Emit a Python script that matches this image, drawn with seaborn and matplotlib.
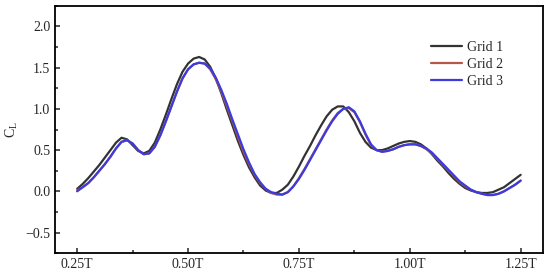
import numpy as np
import pandas as pd
import matplotlib
matplotlib.use("Agg")
import matplotlib.pyplot as plt
from matplotlib.ticker import MultipleLocator, FixedLocator
import seaborn as sns

# phase positions (fraction of period T)
phase = [0.25, 0.2625, 0.275, 0.2875, 0.30, 0.3125, 0.325, 0.3375, 0.35, 0.3625,
         0.375, 0.3875, 0.40, 0.4125, 0.425, 0.4375, 0.45, 0.4625, 0.475, 0.4875,
         0.50, 0.5125, 0.525, 0.5375, 0.55, 0.5625, 0.575, 0.5875, 0.60, 0.6125,
         0.625, 0.6375, 0.65, 0.6625, 0.675, 0.6875, 0.70, 0.7125, 0.725, 0.7375,
         0.75, 0.7625, 0.775, 0.7875, 0.80, 0.8125, 0.825, 0.8375, 0.85, 0.8625,
         0.875, 0.8875, 0.90, 0.9125, 0.925, 0.9375, 0.95, 0.9625, 0.975, 0.9875,
         1.00, 1.0125, 1.025, 1.0375, 1.05, 1.0625, 1.075, 1.0875, 1.10, 1.1125,
         1.125, 1.1375, 1.15, 1.1625, 1.175, 1.1875, 1.20, 1.2125, 1.225, 1.2375,
         1.25]

# lift coefficient
grid1 = [0.03, 0.09, 0.16, 0.24, 0.32, 0.41, 0.50, 0.59, 0.65, 0.63,
         0.56, 0.49, 0.46, 0.49, 0.59, 0.75, 0.93, 1.12, 1.30, 1.45,
         1.55, 1.61, 1.63, 1.60, 1.51, 1.37, 1.19, 0.99, 0.80, 0.61,
         0.44, 0.29, 0.17, 0.07, 0.01, -0.02, -0.02, 0.02, 0.08, 0.18,
         0.30, 0.43, 0.55, 0.68, 0.80, 0.91, 0.99, 1.03, 1.03, 0.96,
         0.85, 0.71, 0.60, 0.53, 0.50, 0.50, 0.52, 0.55, 0.58, 0.60,
         0.61, 0.60, 0.57, 0.52, 0.45, 0.37, 0.30, 0.22, 0.15, 0.09,
         0.04, 0.01, -0.01, -0.02, -0.02, -0.01, 0.02, 0.05, 0.10, 0.15,
         0.20]
grid2 = [0.01, 0.05, 0.10, 0.17, 0.25, 0.33, 0.42, 0.52, 0.60, 0.62,
         0.58, 0.50, 0.45, 0.46, 0.54, 0.68, 0.85, 1.03, 1.21, 1.37,
         1.48, 1.54, 1.56, 1.55, 1.48, 1.36, 1.21, 1.03, 0.85, 0.66,
         0.48, 0.33, 0.20, 0.10, 0.03, -0.02, -0.04, -0.04, -0.01, 0.06,
         0.16, 0.27, 0.39, 0.51, 0.63, 0.75, 0.86, 0.95, 1.00, 1.01,
         0.96, 0.84, 0.69, 0.56, 0.50, 0.48, 0.49, 0.51, 0.54, 0.56,
         0.57, 0.57, 0.55, 0.51, 0.46, 0.39, 0.32, 0.25, 0.18, 0.11,
         0.06, 0.02, -0.01, -0.03, -0.045, -0.045, -0.03, 0.00, 0.04, 0.08,
         0.13]
grid3 = [0.00, 0.05, 0.10, 0.17, 0.25, 0.33, 0.42, 0.52, 0.60, 0.62,
         0.58, 0.50, 0.45, 0.46, 0.54, 0.68, 0.85, 1.03, 1.21, 1.37,
         1.48, 1.54, 1.56, 1.55, 1.49, 1.38, 1.23, 1.06, 0.87, 0.69,
         0.51, 0.35, 0.21, 0.11, 0.03, -0.01, -0.03, -0.04, -0.01, 0.06,
         0.15, 0.26, 0.38, 0.50, 0.62, 0.74, 0.85, 0.94, 1.00, 1.02,
         0.97, 0.85, 0.70, 0.57, 0.50, 0.48, 0.49, 0.51, 0.54, 0.56,
         0.57, 0.57, 0.55, 0.52, 0.47, 0.40, 0.33, 0.26, 0.19, 0.12,
         0.07, 0.02, -0.01, -0.03, -0.045, -0.045, -0.03, 0.00, 0.04, 0.08,
         0.13]

xtick_vals = [0.25, 0.50, 0.75, 1.00, 1.25]
xtick_labels = ["0.25T", "0.50T", "0.75T", "1.00T", "1.25T"]

df = pd.concat([
    pd.DataFrame({"t": phase, "cl": grid1, "grid": "Grid 1"}),
    pd.DataFrame({"t": phase, "cl": grid2, "grid": "Grid 2"}),
    pd.DataFrame({"t": phase, "cl": grid3, "grid": "Grid 3"}),
])

sns.set_style("ticks")
plt.rcParams["font.family"] = ["Liberation Serif", "DejaVu Serif"]
plt.rcParams["mathtext.fontset"] = "custom"
plt.rcParams["mathtext.rm"] = "Liberation Serif"

fig = plt.figure(figsize=(5.5, 2.8), dpi=100)
ax = fig.add_axes([0.1, 0.096, 0.887, 0.883])

palette = {"Grid 1": "#333333", "Grid 2": "#b5574a", "Grid 3": "#3b3be0"}
sns.lineplot(data=df, x="t", y="cl", hue="grid", palette=palette, lw=1.6, ax=ax)

ax.set_xlim(0.2, 1.3)
ax.set_ylim(-0.75, 2.25)
ax.xaxis.set_major_locator(FixedLocator(xtick_vals))
ax.set_xticklabels(xtick_labels)
ax.xaxis.set_minor_locator(MultipleLocator(0.125))
ax.yaxis.set_major_locator(MultipleLocator(0.5))
ax.yaxis.set_minor_locator(MultipleLocator(0.25))
ax.tick_params(which="both", direction="in", labelsize=10, width=1.1,
               top=False, right=False)
ax.tick_params(which="major", length=3.5)
ax.tick_params(which="minor", length=2)
for s in ax.spines.values():
    s.set_visible(True)
    s.set_linewidth(1.3)
    s.set_color("black")

ax.set_xlabel("")
ax.set_ylabel(r"C$_\mathregular{L}$", fontsize=10, labelpad=4)

leg = ax.legend(loc="upper right", bbox_to_anchor=(0.945, 0.91), frameon=False,
                fontsize=10, handlelength=2.2, handletextpad=0.4,
                labelspacing=0.3, title=None)

fig.savefig("out.png", dpi=100)
